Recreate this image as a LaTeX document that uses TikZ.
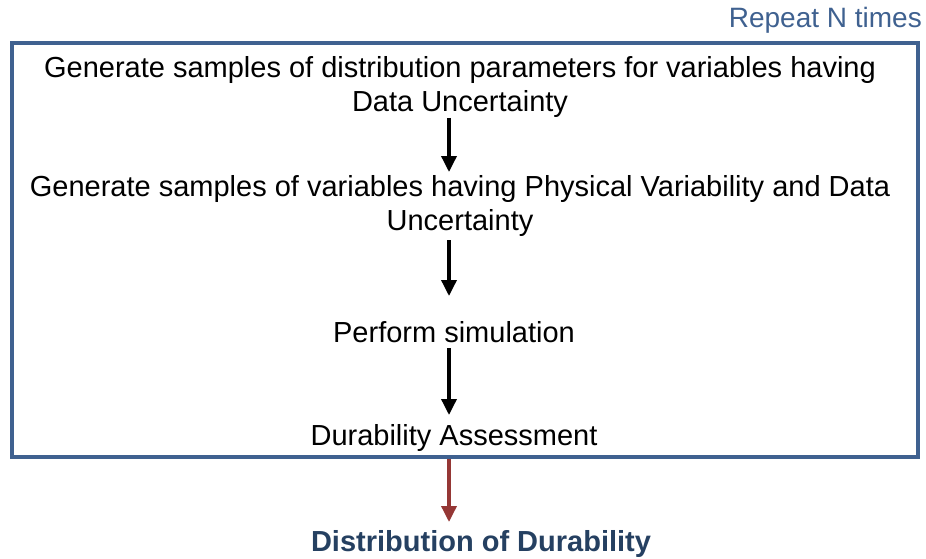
\documentclass[tikz,border=0pt]{standalone}
\usepackage{fontspec}
\setmainfont{Liberation Sans}
\usetikzlibrary{arrows.meta}
\definecolor{boxblue}{HTML}{3F6190}
\definecolor{darkblue}{HTML}{254061}
\definecolor{darkred}{HTML}{953735}
\begin{document}
\begin{tikzpicture}[x=1pt,y=-1pt,
  txt/.style={font=\fontsize{29}{34}\selectfont, align=center, inner sep=0pt},
  flow/.style={line width=3.5pt, -{Triangle[length=16pt,width=15pt]}},
]
\useasboundingbox (0,0) rectangle (926,559);
\draw[boxblue, line width=4pt] (12,43) rectangle (918,457);
\node[txt, font=\fontsize{28}{32}\selectfont, text=boxblue, anchor=east] (rep) at (922,20) {Repeat N times};
\node[txt] (a) at (460,87) {Generate samples of distribution parameters for variables having\\Data Uncertainty};
\node[txt] (b) at (460,206) {Generate samples of variables having Physical Variability and Data\\Uncertainty};
\node[txt] (c) at (454,332) {Perform simulation};
\node[txt] (d) at (454,438) {Durability Assessment};
\node[txt, font=\bfseries\fontsize{29}{34}\selectfont, text=darkblue] (e) at (481,544) {Distribution of Durability};
\coordinate (a1) at (449,118); \coordinate (a2) at (449,172);
\coordinate (b1) at (449,240); \coordinate (b2) at (449,296);
\coordinate (c1) at (449,348); \coordinate (c2) at (449,415);
\coordinate (d1) at (449,459); \coordinate (d2) at (449,522);
\draw[flow] (a1) -- (a2);
\draw[flow] (b1) -- (b2);
\draw[flow] (c1) -- (c2);
\draw[flow, darkred] (d1) -- (d2);
\end{tikzpicture}
\end{document}
